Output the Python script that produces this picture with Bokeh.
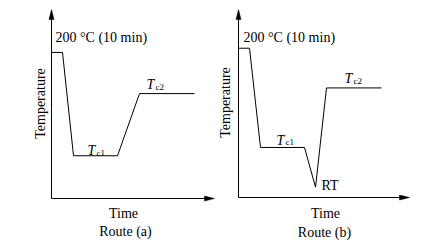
import math
from bokeh.plotting import figure
from bokeh.layouts import row
from bokeh.core.properties import value
from bokeh.embed import file_html
from bokeh.resources import INLINE

# ---- data (schematic heat-treatment routes) ----
time_a = [0, 1, 2, 6, 8, 13]
temp_a = [200, 200, 67, 67, 147, 147]
time_b = [0, 1, 2, 6, 7, 8, 13]
temp_b = [200, 200, 75, 75, 25, 150, 150]
hold_label = "200 °C (10 min)"
x_label = "Time"
y_label = "Temperature"
route_a = "Route (a)"
route_b = "Route (b)"
rt_label = "RT"

FONT = value("Liberation Serif")
FS = "14px"
SUB = "9px"
BASE = 12  # temperature value at the time axis


def panel(W, H, ox, oy, sx, sy):
    x0 = -ox / sx
    x1 = (W - ox) / sx
    y0 = BASE - oy / sy
    y1 = BASE + (H - oy) / sy
    p = figure(width=W, height=H, x_range=(x0, x1), y_range=(y0, y1),
               output_backend="svg", toolbar_location=None, min_border=0,
               outline_line_color=None, background_fill_color="white",
               border_fill_color="white")
    p.axis.visible = False
    p.grid.visible = False
    dx = lambda px: px / sx
    dy = lambda px: px / sy
    return p, dx, dy


def axes(p, dx, dy, x_tip, y_tip):
    p.line([0, x_tip - dx(6)], [BASE, BASE], line_color="black", line_width=1)
    p.line([0, 0], [BASE, y_tip - dy(6)], line_color="black", line_width=1)
    p.patch([x_tip, x_tip - dx(10), x_tip - dx(10)],
            [BASE, BASE + dy(2.5), BASE - dy(2.5)],
            fill_color="black", line_color="black", line_width=0.5)
    p.patch([0, dx(2.5), -dx(2.5)],
            [y_tip, y_tip - dy(10), y_tip - dy(10)],
            fill_color="black", line_color="black", line_width=0.5)


def txt(p, x, y, s, size=FS, align="left", baseline="alphabetic",
        angle=0.0, style="normal"):
    p.text(x=[x], y=[y], text=[s], text_font=FONT, text_font_size=size,
           text_align=align, text_baseline=baseline, angle=angle,
           text_font_style=style, text_color="black")


def tlabel(p, dx, dy, x, y, sub):
    txt(p, x, y, "T", style="italic")
    txt(p, x + dx(9), y - dy(2), sub, size=SUB)


# ---- panel (a) ----
Wa, Ha = 215, 240
oxa, oya, sxa, sya = 51, 42, 11.0, 0.777
pa, dxa, dya = panel(Wa, Ha, oxa, oya, sxa, sya)
axes(pa, dxa, dya, dxa(214 - oxa), BASE + dya(231 - oya))
pa.line(time_a, temp_a, line_color="black", line_width=1)
txt(pa, time_a[0] + dxa(4), temp_a[0] + dya(15), hold_label)
txt(pa, -dxa(11), BASE + dya(95), y_label, align="center",
    baseline="middle", angle=math.pi / 2)
txt(pa, dxa(72), BASE - dya(15), x_label, align="center")
txt(pa, dxa(74), BASE - dya(33), route_a, align="center")
tlabel(pa, dxa, dya, time_a[2] + dxa(14), temp_a[2] + dya(5), "c1")
tlabel(pa, dxa, dya, time_a[4] + dxa(7), temp_a[4] + dya(9), "c2")

# ---- panel (b) ----
Wb, Hb = 216, 240
oxb, oyb, sxb, syb = 23, 43, 11.0, 0.794
pb, dxb, dyb = panel(Wb, Hb, oxb, oyb, sxb, syb)
axes(pb, dxb, dyb, dxb(194 - oxb), BASE + dyb(231 - oyb))
pb.line(time_b, temp_b, line_color="black", line_width=1)
txt(pb, time_b[0] + dxb(5), temp_b[0] + dyb(11), hold_label)
txt(pb, -dxb(13), BASE + dyb(95), y_label, align="center",
    baseline="middle", angle=math.pi / 2)
txt(pb, dxb(87), BASE - dyb(16), x_label, align="center")
txt(pb, dxb(86), BASE - dyb(35), route_b, align="center")
tlabel(pb, dxb, dyb, time_b[2] + dxb(16), temp_b[2] + dyb(7), "c1")
tlabel(pb, dxb, dyb, time_b[5] + dxb(18), temp_b[5] + dyb(9), "c2")
txt(pb, time_b[4] + dxb(6), temp_b[4] + dyb(2), rt_label)

layout = row(pa, pb)
open("out.html", "w").write(file_html(layout, INLINE))
